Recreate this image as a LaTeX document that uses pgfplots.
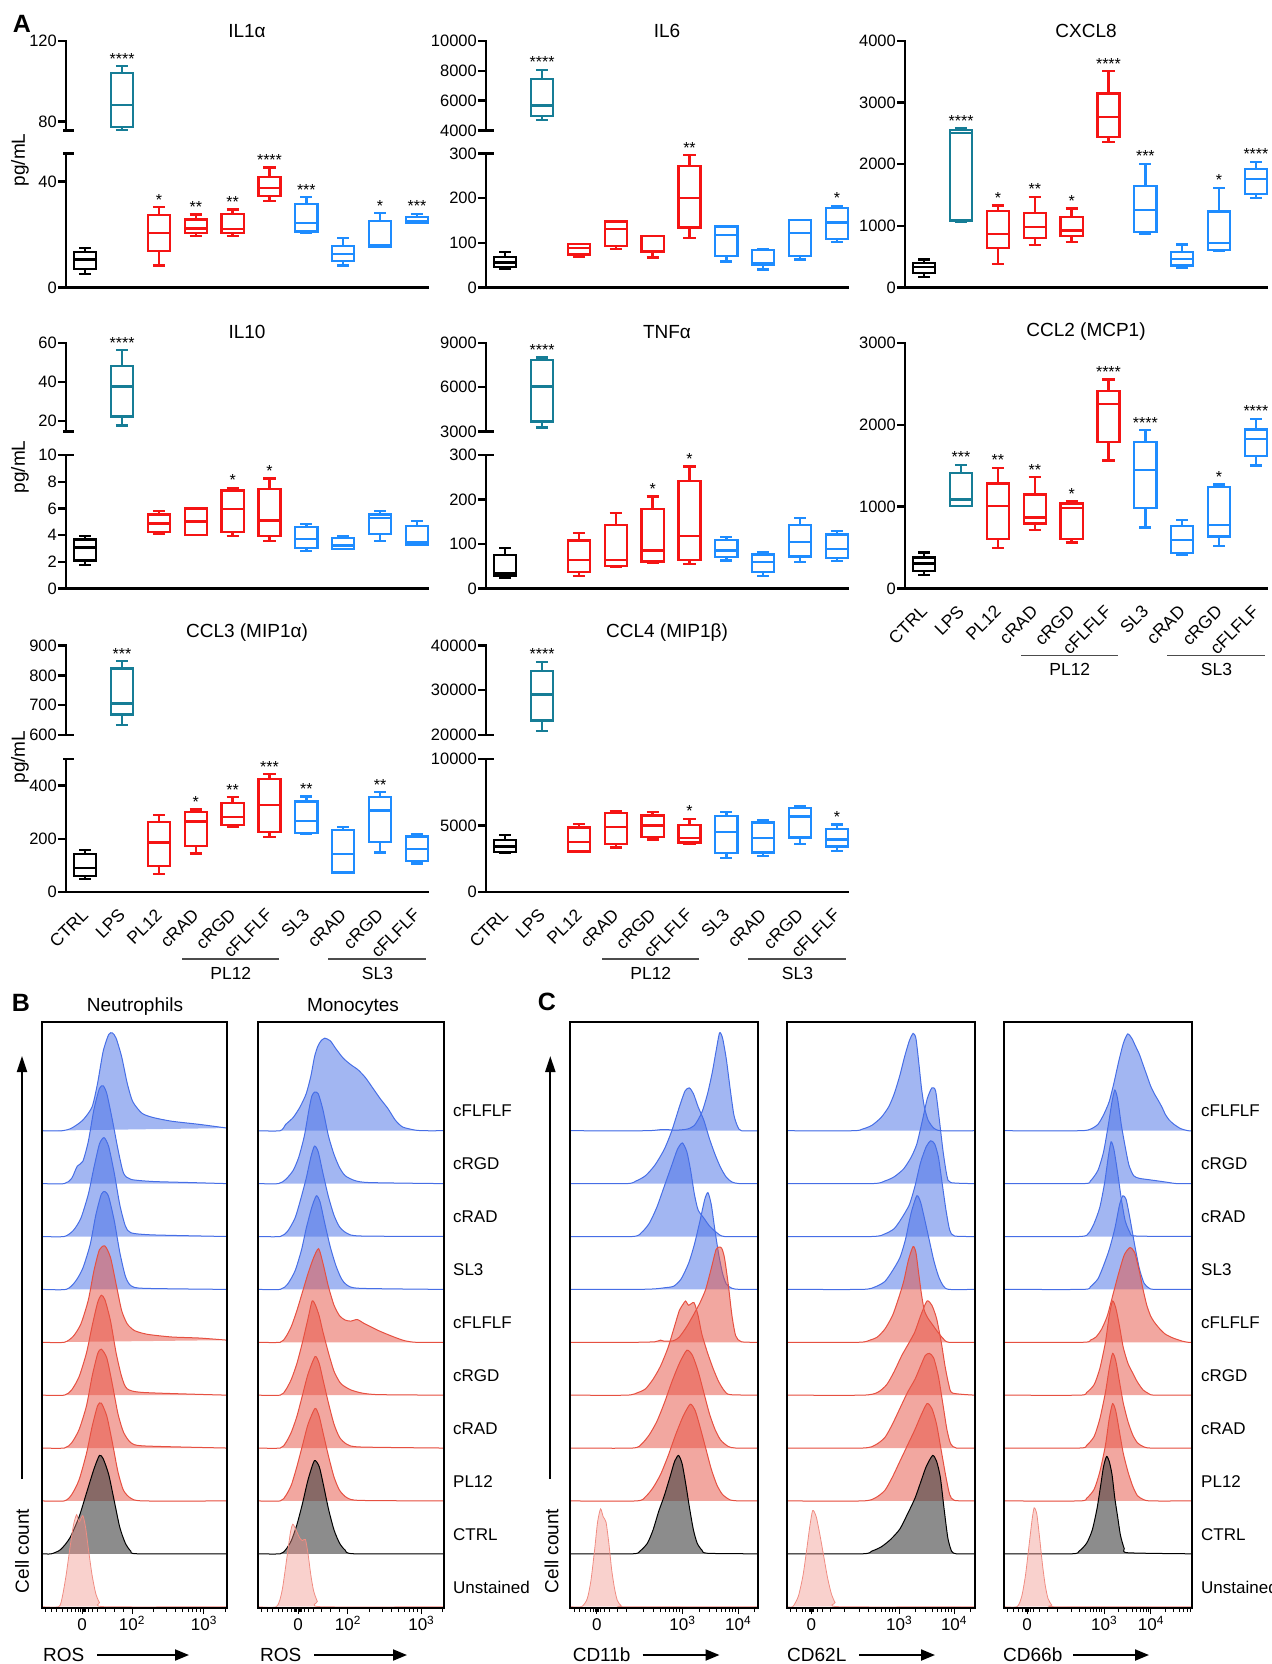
\documentclass[border=0pt]{standalone}
\usepackage{fontspec}
\setmainfont{Liberation Sans}
\usepackage{pgfplots}
\pgfplotsset{compat=1.18}
\usetikzlibrary{arrows.meta}

\definecolor{tl}{RGB}{22,125,150}
\definecolor{rd}{RGB}{245,20,20}
\definecolor{bl}{RGB}{30,140,255}
\definecolor{hbl}{RGB}{70,110,230}
\definecolor{hrd}{RGB}{230,80,65}
\definecolor{hun}{RGB}{240,140,130}

\newcommand\ttl{\fontsize{19}{22}\selectfont}
\newcommand\tkf{\fontsize{16.5}{19}\selectfont}
\newcommand\ctf{\fontsize{17.5}{20}\selectfont}
\newcommand\sgf{\fontsize{16}{18}\selectfont}
\newcommand\lbf{\fontsize{19}{22}\selectfont}
\newcommand\rlf{\fontsize{17}{20}\selectfont}
\newcommand\pnf{\fontsize{25}{28}\selectfont\bfseries}

\pgfplotsset{
  cyt/.style={scale only axis, width=362pt, xmin=-0.52, xmax=9.3, clip=false,
    axis y line*=left,
    axis line style={line width=2.6pt, line cap=rect},
    tick align=outside, major tick length=8pt,
    ytick style={line width=2.4pt, black},
    yticklabel style={font=\tkf, inner sep=1pt},
    /pgf/number format/assume math mode=true,
    /pgf/number format/1000 sep={},
    scaled y ticks=false},
  lower/.style={cyt, axis x line*=bottom, xtick=\empty, ymin=0},
  upper/.style={cyt, axis x line=none, xtick=\empty},
  cats/.style={xtick={0,...,9},
    xticklabels={CTRL,LPS,PL12,cRAD,cRGD,cFLFLF,SL3,cRAD,cRGD,cFLFLF},
    xtick style={draw=none},
    xticklabel style={font=\ctf, rotate=45, anchor=east, inner sep=0pt},
    xticklabel shift=12pt},
  ridge/.style={scale only axis, height=585.7pt, xmin=0, xmax=100,
    ymin=-0.025, ymax=11.05, axis on top,
    axis line style={line width=2.2pt},
    ytick=\empty, xtick pos=left, tick align=outside,
    major tick length=6pt, minor tick length=3.5pt,
    tick style={line width=1pt, black},
    xticklabel style={font=\rlf, inner sep=2pt},
    typeset ticklabels with strut},
  hb/.style={draw=hbl, line width=1pt, fill=hbl, fill opacity=0.5, smooth, tension=0.4, mark=none},
  hr/.style={draw=hrd, line width=1pt, fill=hrd, fill opacity=0.5, smooth, tension=0.4, mark=none},
  hk/.style={draw=black, line width=1pt, fill=black!75, fill opacity=0.6, smooth, tension=0.4, mark=none},
  hu/.style={draw=hun, line width=0.8pt, fill=hun, fill opacity=0.4, smooth, tension=0.4, mark=none},
}

% one box-and-whisker: colour, position, min, Q1, median, Q3, max
\newcommand\bx[7]{%
  \pgfmathsetmacro\xa{#2-0.3}%
  \pgfmathsetmacro\xb{#2+0.3}%
  \pgfmathsetmacro\xc{#2-0.165}%
  \pgfmathsetmacro\xd{#2+0.165}%
  \edef\bxcmd{\noexpand\addplot[draw=#1, line width=2.3pt, mark=none, line join=miter, unbounded coords=jump] coordinates {%
    (\xa,#4) (\xb,#4) (\xb,#6) (\xa,#6) (\xa,#4) (\xb,#4) (\xb,nan)
    (\xa,#5) (\xb,#5) (\xb,nan)
    (#2,#6) (#2,#7) (#2,nan)
    (\xc,#7) (\xd,#7) (\xd,nan)
    (#2,#4) (#2,#3) (#2,nan)
    (\xc,#3) (\xd,#3)};}%
  \bxcmd}
% significance stars above a whisker
\newcommand\sg[3]{\node[font=\sgf, anchor=base, inner sep=0pt, yshift=2pt] at (axis cs:#1,#2) {#3};}
% axis-break marks
\newcommand\brkB{\draw[line width=2.6pt] (rel axis cs:0,0) ++(-3pt,0pt) -- ++(11pt,0pt);}
\newcommand\brkT{\draw[line width=2.6pt] (rel axis cs:0,1) ++(-3pt,0pt) -- ++(11pt,0pt);}
% group brackets under the category labels
\newcommand\groups{%
  \draw[line width=1.3pt, black!70] (axis cs:2.63,0) ++(0pt,-67pt) -- ++(97pt,0pt);
  \draw[line width=1.3pt, black!70] (axis cs:6.6,0) ++(0pt,-67pt) -- ++(98pt,0pt);
  \node[font=\ctf, yshift=-81pt] at (axis cs:3.95,0) {PL12};
  \node[font=\ctf, yshift=-81pt] at (axis cs:7.93,0) {SL3};}
% one histogram row: style, row offset, points
\newcommand\rc[3]{\addplot[#1, y filter/.expression={y+#2}] coordinates {#3};}

\begin{document}
\begin{tikzpicture}
\path[use as bounding box] (0,0) rectangle (1271pt,-1664pt);

\node[font=\pnf] at (22pt,-24pt) {A};

% ---------------- IL1alpha ----------------
\node[font=\ttl] at (247pt,-31pt) {IL1α};
\node[font=\lbf, rotate=90] at (20pt,-160pt) {pg/mL};
\begin{axis}[upper, at={(66pt,-130.5pt)}, anchor=south west, height=89.5pt, ymin=75.5, ymax=120, ytick={80,120}]
\bx{tl}{1}{75.7}{77.3}{88.3}{104.2}{107.5}
\sg{1}{107.5}{****}
\brkB
\end{axis}
\begin{axis}[lower, at={(66pt,-287.5pt)}, anchor=south west, height=134pt, ymax=50.5, ytick={0,40}]
\bx{black}{0}{5}{7}{10.5}{13.25}{15}
\bx{rd}{2}{8.25}{13.75}{20.5}{27.4}{30.25}
\bx{rd}{3}{19.5}{20.5}{22.25}{25.6}{27.5}
\bx{rd}{4}{19.5}{20.6}{22}{27.75}{29.4}
\bx{rd}{5}{32.5}{34.6}{37.5}{41.75}{45.25}
\bx{bl}{6}{20.5}{21.1}{24.25}{31.5}{34.1}
\bx{bl}{7}{8.25}{10}{12.75}{15.6}{18.75}
\bx{bl}{8}{15.3}{15.5}{16}{25}{28}
\bx{bl}{9}{24.25}{24.3}{25.1}{26.5}{27.75}
\sg{2}{30.25}{*}\sg{3}{27.5}{**}\sg{4}{29.4}{**}\sg{5}{45.25}{****}
\sg{6}{34.1}{***}\sg{8}{28}{*}\sg{9}{27.75}{***}
\brkT
\end{axis}

% ---------------- IL6 ----------------
\node[font=\ttl] at (667pt,-31pt) {IL6};
\begin{axis}[upper, at={(486pt,-130.5pt)}, anchor=south west, height=89.5pt, ymin=4000, ymax=10000, ytick={4000,6000,8000,10000}]
\bx{tl}{1}{4714}{4960}{5677}{7469}{8074}
\sg{1}{8074}{****}
\brkB
\end{axis}
\begin{axis}[lower, at={(486pt,-287.5pt)}, anchor=south west, height=134pt, ymax=300, ytick={0,100,200,300}]
\bx{black}{0}{41}{46.5}{56}{68}{79}
\bx{rd}{2}{69}{74}{89}{97}{97.5}
\bx{rd}{3}{86}{93}{130.5}{148}{148}
\bx{rd}{4}{67}{80}{81}{115}{116}
\bx{rd}{5}{111}{134}{200}{272}{296}
\bx{bl}{6}{58.5}{70.5}{118}{136.5}{138}
\bx{bl}{7}{40.5}{50}{54}{84}{85}
\bx{bl}{8}{63}{71}{122}{150.75}{150.75}
\bx{bl}{9}{102}{108}{145.5}{178.5}{183}
\sg{5}{296}{**}\sg{9}{183}{*}
\brkT
\end{axis}

% ---------------- CXCL8 ----------------
\node[font=\ttl] at (1086pt,-31pt) {CXCL8};
\begin{axis}[lower, at={(905pt,-287.5pt)}, anchor=south west, height=246.5pt, ymax=4000, ytick={0,1000,2000,3000,4000}]
\bx{black}{0}{168}{238}{330}{400}{454}
\bx{tl}{1}{1065}{1086}{2508}{2551}{2578}
\bx{rd}{2}{384}{643}{870}{1243}{1330}
\bx{rd}{3}{686}{805}{978}{1211}{1470}
\bx{rd}{4}{740}{832}{924}{1140}{1281}
\bx{rd}{5}{2357}{2438}{2767}{3146}{3513}
\bx{bl}{6}{870}{903}{1254}{1643}{2005}
\bx{bl}{7}{319}{357}{465}{578}{697}
\bx{bl}{8}{589}{605}{724}{1232}{1616}
\bx{bl}{9}{1449}{1519}{1762}{1924}{2038}
\sg{1}{2578}{****}\sg{2}{1330}{*}\sg{3}{1470}{**}\sg{4}{1281}{*}\sg{5}{3513}{****}
\sg{6}{2005}{***}\sg{8}{1616}{*}\sg{9}{2038}{****}
\end{axis}

% ---------------- IL10 ----------------
\node[font=\ttl] at (247pt,-332pt) {IL10};
\node[font=\lbf, rotate=90] at (20pt,-467pt) {pg/mL};
\begin{axis}[upper, at={(66pt,-431.5pt)}, anchor=south west, height=88.5pt, ymin=14.7, ymax=60, ytick={20,40,60}]
\bx{tl}{1}{17.8}{22.4}{37.7}{48.2}{56.3}
\sg{1}{56.3}{****}
\brkB
\end{axis}
\begin{axis}[lower, at={(66pt,-588.5pt)}, anchor=south west, height=133.5pt, ymax=10, ytick={0,2,4,6,8,10}]
\bx{black}{0}{1.75}{2.1}{3.08}{3.68}{3.95}
\bx{rd}{2}{4.08}{4.25}{4.88}{5.55}{5.78}
\bx{rd}{3}{4.0}{4.0}{5.03}{6.0}{6.0}
\bx{rd}{4}{3.93}{4.25}{5.93}{7.35}{7.53}
\bx{rd}{5}{3.58}{3.93}{5.1}{7.43}{8.23}
\bx{bl}{6}{2.8}{3.05}{3.7}{4.6}{4.85}
\bx{bl}{7}{2.98}{2.98}{3.23}{3.78}{3.95}
\bx{bl}{8}{3.58}{4.1}{5.3}{5.55}{5.78}
\bx{bl}{9}{3.3}{3.3}{3.48}{4.68}{5.05}
\sg{4}{7.53}{*}\sg{5}{8.23}{*}
\brkT
\end{axis}

% ---------------- TNFalpha ----------------
\node[font=\ttl] at (667pt,-332pt) {TNFα};
\begin{axis}[upper, at={(486pt,-431.5pt)}, anchor=south west, height=88.5pt, ymin=3000, ymax=9000, ytick={3000,6000,9000}]
\bx{tl}{1}{3272}{3680}{6057}{7868}{8026}
\sg{1}{8026}{****}
\brkB
\end{axis}
\begin{axis}[lower, at={(486pt,-588.5pt)}, anchor=south west, height=133.5pt, ymax=300, ytick={0,100,200,300}]
\bx{black}{0}{24}{29}{35}{75}{91}
\bx{rd}{2}{28}{37.5}{64.5}{108}{124}
\bx{rd}{3}{48}{50}{64.5}{142.5}{169}
\bx{rd}{4}{57}{61}{85.5}{178}{207}
\bx{rd}{5}{55}{64.5}{118.5}{241}{274.5}
\bx{bl}{6}{63}{70.5}{85.5}{109.5}{116}
\bx{bl}{7}{28.5}{37}{59}{76.5}{82.5}
\bx{bl}{8}{60}{72}{105}{142.5}{158}
\bx{bl}{9}{62}{69}{88}{121.5}{129}
\sg{4}{207}{*}\sg{5}{274.5}{*}
\brkT
\end{axis}

% ---------------- CCL2 ----------------
\node[font=\ttl] at (1086pt,-332pt) {CCL2 (MCP1)};
\begin{axis}[lower, cats, at={(905pt,-588.5pt)}, anchor=south west, height=245.5pt, ymax=3000, ytick={0,1000,2000,3000}]
\bx{black}{0}{163}{215}{305}{378}{439}
\bx{tl}{1}{1008}{1008}{1089}{1415}{1512}
\bx{rd}{2}{496}{602}{1012}{1285}{1476}
\bx{rd}{3}{711}{793}{866}{1150}{1362}
\bx{rd}{4}{561}{602}{988}{1037}{1069}
\bx{rd}{5}{1565}{1789}{2252}{2411}{2553}
\bx{bl}{6}{744}{984}{1447}{1793}{1935}
\bx{bl}{7}{406}{431}{593}{764}{833}
\bx{bl}{8}{520}{634}{776}{1240}{1272}
\bx{bl}{9}{1504}{1618}{1829}{1943}{2073}
\sg{1}{1512}{***}\sg{2}{1476}{**}\sg{3}{1362}{**}\sg{4}{1069}{*}\sg{5}{2553}{****}
\sg{6}{1935}{****}\sg{8}{1272}{*}\sg{9}{2073}{****}
\groups
\end{axis}

% ---------------- CCL3 ----------------
\node[font=\ttl] at (247pt,-633pt) {CCL3 (MIP1α)};
\node[font=\lbf, rotate=90] at (20pt,-757pt) {pg/mL};
\begin{axis}[upper, at={(66pt,-735pt)}, anchor=south west, height=89.5pt, ymin=600, ymax=900, ytick={600,700,800,900}]
\bx{tl}{1}{633}{669}{706}{823}{847.6}
\sg{1}{847.6}{***}
\brkB
\end{axis}
\begin{axis}[lower, cats, at={(66pt,-892pt)}, anchor=south west, height=133pt, ymax=500, ytick={0,200,400}]
\bx{black}{0}{50}{59}{90}{142}{159}
\bx{rd}{2}{68}{98}{186}{263}{290}
\bx{rd}{3}{145}{174}{265}{300}{310}
\bx{rd}{4}{245}{253}{282}{335}{356}
\bx{rd}{5}{207}{226}{327}{424}{443}
\bx{bl}{6}{217}{223}{267}{340}{359}
\bx{bl}{7}{73}{73}{142}{232}{245}
\bx{bl}{8}{148}{187}{306}{356}{375}
\bx{bl}{9}{107}{117}{163}{209}{219}
\sg{3}{310}{*}\sg{4}{356}{**}\sg{5}{443}{***}\sg{6}{359}{**}\sg{8}{375}{**}
\brkT
\groups
\end{axis}

% ---------------- CCL4 ----------------
\node[font=\ttl] at (667pt,-633pt) {CCL4 (MIP1β)};
\begin{axis}[upper, at={(486pt,-735pt)}, anchor=south west, height=89.5pt, ymin=20000, ymax=40000, ytick={20000,30000,40000}]
\bx{tl}{1}{20818}{23270}{29070}{34275}{36357}
\sg{1}{36357}{****}
\brkB
\end{axis}
\begin{axis}[lower, cats, at={(486pt,-892pt)}, anchor=south west, height=133pt, ymax=10000, ytick={0,5000,10000}]
\bx{black}{0}{2925}{3000}{3425}{3900}{4275}
\bx{rd}{2}{3050}{3050}{3750}{4850}{5100}
\bx{rd}{3}{3350}{3600}{4900}{5925}{6075}
\bx{rd}{4}{3950}{4150}{5000}{5750}{6000}
\bx{rd}{5}{3600}{3725}{4075}{5050}{5500}
\bx{bl}{6}{2575}{2925}{4525}{5725}{6000}
\bx{bl}{7}{2725}{2975}{4075}{5225}{5425}
\bx{bl}{8}{3600}{4100}{5675}{6300}{6475}
\bx{bl}{9}{3100}{3425}{3950}{4750}{5075}
\sg{5}{5500}{*}\sg{9}{5075}{*}
\brkT
\groups
\end{axis}

% ================= B: ROS =================
\node[font=\pnf] at (21pt,-1003pt) {B};
\node[font=\lbf] at (135pt,-1007pt) {Neutrophils};
\node[font=\lbf] at (353pt,-1007pt) {Monocytes};

\begin{axis}[ridge, width=185pt, at={(42.1pt,-1608pt)}, anchor=south west,
  xtick={21.6,48.6,87.5}, xticklabels={0,10\textsuperscript{2},10\textsuperscript{3}},
  minor xtick={2,5,8,11,13.5,16,18,19.5,20.5,21,22.2,22.7,23.5,25,27,30,34,39,44,60.3,67.2,72,75.8,78.9,81.5,83.7,85.7,99.2}]
\rc{hb}{9}{(0,0)(11,0)(16,0.05)(22,0.2)(27,0.45)(30,0.9)(33,1.5)(36,1.82)(38,1.85)(40,1.75)(43,1.4)(46,0.9)(49,0.55)(54,0.33)(60,0.25)(70,0.18)(85,0.12)(100,0.05)}
\rc{hb}{8}{(0,0)(12,0)(16,0.1)(19,0.33)(22,0.42)(25,0.8)(28,1.4)(31,1.8)(33,1.85)(35,1.7)(38,1.2)(41,0.65)(44,0.2)(48,0.08)(60,0.04)(80,0.02)(100,0)}
\rc{hb}{7}{(0,0)(12,0)(17,0.12)(21,0.35)(25,0.8)(28,1.3)(31,1.75)(33.5,1.87)(36,1.7)(39,1.2)(42,0.6)(45,0.2)(48,0.07)(60,0.03)(100,0)}
\rc{hb}{6}{(0,0)(13,0)(18,0.15)(22,0.4)(26,0.85)(29,1.4)(32,1.8)(34,1.85)(36,1.75)(39,1.3)(42,0.7)(45,0.25)(48,0.07)(55,0.02)(100,0)}
\rc{hr}{5}{(0,0)(12,0)(17,0.12)(21,0.35)(25,0.8)(28,1.35)(31,1.75)(34,1.82)(37,1.6)(40,1.1)(43,0.6)(46,0.35)(50,0.22)(57,0.15)(70,0.1)(85,0.08)(100,0.04)}
\rc{hr}{4}{(0,0)(12,0)(16,0.1)(20,0.35)(24,0.8)(27,1.3)(30,1.75)(32,1.89)(34,1.8)(37,1.4)(40,0.8)(43,0.35)(46,0.12)(55,0.05)(100,0)}
\rc{hr}{3}{(0,0)(12,0)(16,0.1)(20,0.35)(24,0.8)(27,1.35)(30,1.78)(32,1.87)(35,1.7)(38,1.2)(41,0.65)(44,0.3)(48,0.1)(55,0.04)(100,0)}
\rc{hr}{2}{(0,0)(12,0)(16,0.12)(20,0.4)(24,0.9)(27,1.4)(30,1.8)(32,1.85)(35,1.6)(38,1.1)(41,0.55)(44,0.2)(48,0.05)(55,0)(100,0)}
\rc{hk}{1}{(0,0)(5,0)(10,0.08)(15,0.3)(20,0.7)(24,1.15)(28,1.6)(31,1.86)(33,1.8)(36,1.5)(39,1.0)(42,0.5)(45,0.2)(48,0.05)(52,0)(100,0)}
\rc{hu}{0}{(0,0)(9,0)(11,0.2)(13,0.6)(15,1.1)(17,1.55)(18.7,1.74)(20,1.6)(22,1.72)(23.5,1.5)(25,1.1)(27,0.6)(29,0.25)(31,0.08)(34,0)(100,0)}
\end{axis}

\begin{axis}[ridge, width=185.7pt, at={(257.9pt,-1608pt)}, anchor=south west,
  xtick={21.6,48.5,88}, xticklabels={0,10\textsuperscript{2},10\textsuperscript{3}},
  minor xtick={2,5,8,11,13.5,16,18,19.5,20.5,21,22.2,22.7,23.5,25,27,30,34,39,44,60.3,67.2,72,75.8,78.9,81.5,83.7,85.7,99.2}]
\rc{hb}{9}{(0,0)(12,0)(15,0.12)(19,0.25)(22.7,0.45)(26,0.7)(28.5,1.03)(30.5,1.4)(32.3,1.6)(34,1.7)(36,1.75)(39,1.7)(42,1.55)(46,1.37)(50,1.25)(54,1.15)(58,1.0)(62,0.8)(66,0.6)(70,0.42)(74,0.2)(78,0.07)(85,0.01)(90,0)(100,0)}
\rc{hb}{8}{(0,0)(11,0)(15,0.08)(19,0.25)(22,0.5)(25,0.9)(27.5,1.4)(29,1.65)(30.5,1.73)(32.5,1.7)(35,1.4)(38,0.9)(41,0.55)(44,0.3)(47,0.15)(52,0.06)(60,0.02)(100,0)}
\rc{hb}{7}{(0,0)(12,0)(16,0.1)(20,0.35)(23,0.7)(26,1.1)(28.5,1.5)(30.5,1.71)(32.5,1.6)(35,1.2)(38,0.75)(41,0.4)(44,0.18)(48,0.06)(55,0.01)(100,0)}
\rc{hb}{6}{(0,0)(12,0)(16,0.1)(20,0.35)(23.5,0.75)(26,1.15)(29,1.55)(31.5,1.77)(33.5,1.65)(36,1.25)(39,0.8)(42,0.45)(45,0.2)(48,0.08)(55,0.02)(100,0)}
\rc{hr}{5}{(0,0)(12,0)(15,0.1)(18,0.3)(21,0.6)(24,0.95)(27,1.3)(30,1.6)(32.7,1.77)(35,1.5)(38,1.05)(41,0.7)(44,0.5)(47,0.42)(50,0.4)(53.5,0.43)(57,0.36)(61,0.29)(65,0.22)(69,0.16)(74,0.09)(79,0.03)(85,0)(100,0)}
\rc{hr}{4}{(0,0)(12,0)(15,0.1)(18,0.3)(21,0.6)(24,1.0)(27,1.45)(29.2,1.78)(31,1.7)(33,1.5)(35,1.2)(38,0.8)(41,0.45)(44,0.25)(46,0.18)(50,0.1)(56,0.04)(65,0.01)(100,0)}
\rc{hr}{3}{(0,0)(12,0)(15,0.1)(18,0.3)(21,0.6)(24,1.0)(27,1.4)(30.8,1.73)(33,1.6)(35,1.3)(38,0.85)(41,0.45)(44,0.2)(48,0.07)(55,0.02)(100,0)}
\rc{hr}{2}{(0,0)(12,0)(15,0.1)(18,0.3)(21,0.65)(24,1.05)(27,1.45)(30.8,1.75)(33,1.6)(35,1.3)(38,0.85)(41,0.45)(44,0.2)(48,0.06)(55,0.01)(100,0)}
\rc{hk}{1}{(0,0)(12,0)(15,0.08)(18,0.25)(21,0.55)(24,0.95)(27,1.4)(30.4,1.76)(33,1.65)(35,1.35)(38,0.85)(41,0.45)(44,0.2)(47,0.07)(52,0)(100,0)}
\rc{hu}{0}{(0,0)(10,0)(13,0.3)(15.5,0.9)(17.5,1.4)(18.8,1.56)(20.5,1.45)(22.5,1.3)(24,1.25)(25.6,1.27)(27,1.0)(28.5,0.6)(30,0.3)(32,0.1)(34,0)(100,0)}
\end{axis}

\foreach \t [count=\i from 0] in {Unstained,CTRL,PL12,cRAD,cRGD,cFLFLF,SL3,cRAD,cRGD,cFLFLF}{
  \node[font=\rlf, anchor=west, inner sep=0pt] at (453pt,{(-1587.2+52.91*\i)*1pt}) {\t};
  \node[font=\rlf, anchor=west, inner sep=0pt] at (1201pt,{(-1587.2+52.91*\i)*1pt}) {\t};
}

\draw[line width=2pt, -{Triangle[length=16pt, width=10pt]}] (22pt,-1479pt) -- (22pt,-1056pt);
\node[font=\lbf, rotate=90] at (22pt,-1551pt) {Cell count};
\node[font=\lbf, anchor=west, inner sep=0pt] at (43pt,-1655pt) {ROS};
\draw[line width=2pt, -{Triangle[length=14pt, width=11pt]}] (97pt,-1655pt) -- (189pt,-1655pt);
\node[font=\lbf, anchor=west, inner sep=0pt] at (260pt,-1655pt) {ROS};
\draw[line width=2pt, -{Triangle[length=14pt, width=11pt]}] (314pt,-1655pt) -- (407pt,-1655pt);

% ================= C: surface markers =================
\node[font=\pnf] at (547pt,-1002pt) {C};

\begin{axis}[ridge, width=188pt, at={(570.3pt,-1608pt)}, anchor=south west,
  xtick={14.1,59.6,89.3}, xticklabels={0,10\textsuperscript{3},10\textsuperscript{4}},
  minor xtick={2,5,8,10.5,12.3,13.3,13.8,14.5,15,16,18,21,25,30,38.9,44.1,47.8,50.7,53,55,56.7,58.2,68.5,73.8,77.5,80.4,82.7,84.7,86.4,87.9,98.2}]
\rc{hb}{9}{(0,0)(40,0)(48,0.02)(52,0.02)(56,0.01)(62,0.03)(66,0.1)(70,0.35)(73,0.7)(75.5,1.1)(77.5,1.5)(79.4,1.85)(81,1.75)(83,1.35)(85,0.8)(87,0.3)(89,0.08)(91,0)(100,0)}
\rc{hb}{8}{(0,0)(30,0)(35,0.05)(40,0.15)(45,0.35)(50,0.65)(54,1.0)(58,1.45)(61,1.75)(63.3,1.81)(65.5,1.7)(68,1.45)(71,1.2)(74,0.85)(77,0.55)(80,0.3)(83,0.12)(86,0.03)(90,0)(100,0)}
\rc{hb}{7}{(0,0)(33,0)(38,0.08)(42,0.25)(46,0.55)(50,0.95)(54,1.35)(57,1.65)(59.6,1.77)(62,1.6)(64,1.25)(66,0.8)(68,0.5)(71,0.35)(74,0.2)(78,0.07)(82,0)(100,0)}
\rc{hb}{6}{(0,0)(35,0)(45,0.01)(50,0.03)(55,0.06)(59,0.2)(63,0.5)(66,0.85)(69,1.3)(71.5,1.7)(73.2,1.83)(75,1.6)(77,1.1)(79,0.65)(81,0.3)(83,0.1)(86,0.02)(90,0)(100,0)}
\rc{hr}{5}{(0,0)(35,0)(45,0.01)(48,0.04)(50,0.02)(55,0.03)(58,0.1)(62,0.3)(66,0.55)(69,0.75)(72,1.0)(75,1.4)(77.5,1.75)(79,1.8)(80.5,1.78)(82,1.6)(84,1.1)(86,0.5)(88,0.12)(91,0.01)(100,0)}
\rc{hr}{4}{(0,0)(30,0)(36,0.05)(40,0.12)(44,0.3)(48,0.55)(52,0.9)(55,1.25)(58,1.6)(60,1.72)(61.3,1.78)(63,1.7)(65.8,1.75)(68,1.5)(70,1.15)(73,0.8)(76,0.5)(79,0.25)(82,0.08)(85,0.01)(100,0)}
\rc{hr}{3}{(0,0)(33,0)(38,0.08)(42,0.25)(46,0.5)(50,0.85)(54,1.25)(58,1.6)(62,1.85)(65,1.75)(68,1.45)(71,1.05)(74,0.65)(77,0.35)(80,0.15)(84,0.03)(88,0)(100,0)}
\rc{hr}{2}{(0,0)(35,0)(40,0.08)(44,0.25)(48,0.5)(52,0.85)(56,1.25)(60,1.6)(63.8,1.83)(66.5,1.7)(69,1.4)(72,1.0)(75,0.6)(78,0.3)(81,0.12)(85,0.02)(90,0)(100,0)}
\rc{hk}{1}{(0,0)(33,0)(37,0.05)(41,0.2)(44,0.45)(47,0.8)(50,1.1)(53,1.45)(55.5,1.75)(57.6,1.86)(59.5,1.7)(61.5,1.3)(63.5,0.85)(65.5,0.45)(67.5,0.2)(70,0.07)(73,0.01)(100,0)}
\rc{hu}{0}{(0,0)(6,0)(9,0.15)(11,0.5)(13,1.1)(14.5,1.6)(16.1,1.85)(17.5,1.7)(19,1.6)(20.5,1.2)(22,0.7)(23.5,0.35)(25,0.12)(27,0.02)(30,0)(100,0)}
\end{axis}

\begin{axis}[ridge, width=188pt, at={(787.1pt,-1608pt)}, anchor=south west,
  xtick={12.9,59.6,88.8}, xticklabels={0,10\textsuperscript{3},10\textsuperscript{4}},
  minor xtick={2,5,8,10,11.7,12.5,13.3,14,16,19,23,30.4,38.4,43.5,47.2,50,52.3,54.3,55.9,57.5,68.4,73.5,77.2,80,82.3,84.3,85.9,87.3,97.6}]
\rc{hb}{9}{(0,0)(35,0)(40,0.03)(45,0.1)(50,0.25)(54,0.45)(57,0.7)(60,1.05)(62.5,1.4)(65,1.7)(67,1.84)(68.5,1.75)(70,1.3)(71.5,0.8)(73,0.45)(75,0.2)(78,0.05)(82,0)(100,0)}
\rc{hb}{8}{(0,0)(45,0)(52,0.05)(57,0.13)(62,0.28)(66,0.5)(69,0.75)(72,1.2)(74.5,1.6)(77,1.81)(79,1.75)(81,1.2)(83,0.6)(85,0.15)(87,0.02)(100,0)}
\rc{hb}{7}{(0,0)(45,0)(52,0.05)(57,0.15)(61,0.35)(65,0.6)(68,0.95)(71,1.4)(74,1.7)(76.4,1.81)(78.5,1.75)(80.5,1.5)(82.5,1.0)(84.5,0.5)(86.5,0.12)(89,0.01)(100,0)}
\rc{hb}{6}{(0,0)(40,0)(47,0.05)(52,0.15)(56,0.35)(60,0.6)(63,0.95)(66,1.45)(69,1.77)(71,1.65)(73,1.35)(75.5,0.95)(78,0.55)(80.5,0.25)(83,0.07)(86,0)(100,0)}
\rc{hr}{5}{(0,0)(38,0)(44,0.04)(48,0.1)(52,0.25)(56,0.5)(59,0.8)(62,1.15)(64.5,1.55)(67,1.81)(68.5,1.7)(70,1.3)(71.5,0.9)(73,0.6)(75,0.45)(77,0.35)(80,0.2)(83,0.07)(86,0)(100,0)}
\rc{hr}{4}{(0,0)(40,0)(48,0.05)(53,0.2)(57,0.45)(61,0.75)(65,1.0)(68,1.2)(71,1.5)(74.4,1.78)(77,1.7)(79.5,1.45)(82,1.0)(84,0.55)(86,0.2)(88,0.04)(100,0)}
\rc{hr}{3}{(0,0)(40,0)(47,0.06)(52,0.2)(56,0.45)(60,0.75)(64,1.05)(68,1.3)(71,1.55)(73.5,1.75)(75.7,1.79)(78,1.7)(80.5,1.35)(83,0.8)(85,0.35)(87,0.08)(90,0)(100,0)}
\rc{hr}{2}{(0,0)(40,0)(47,0.06)(52,0.2)(56,0.45)(60,0.75)(64,1.05)(68,1.35)(71,1.6)(74.4,1.84)(77,1.75)(79.5,1.45)(82,0.95)(84.5,0.45)(86.5,0.12)(89,0.01)(100,0)}
\rc{hk}{1}{(0,0)(40,0)(45,0.05)(50,0.13)(55,0.27)(60,0.47)(64,0.75)(68,1.05)(71,1.35)(74,1.65)(77.4,1.86)(79.5,1.75)(81.5,1.45)(83.5,0.85)(85.5,0.3)(87.5,0.05)(90,0)(100,0)}
\rc{hu}{0}{(0,0)(3,0)(6,0.2)(8.5,0.6)(10.5,1.1)(12,1.5)(13.6,1.82)(15.5,1.7)(17.5,1.35)(19.5,0.95)(21.5,0.55)(23.5,0.25)(25.5,0.08)(28,0)(100,0)}
\end{axis}

\begin{axis}[ridge, width=188pt, at={(1003.9pt,-1608pt)}, anchor=south west,
  xtick={12.4,53.3,78.2}, xticklabels={0,10\textsuperscript{3},10\textsuperscript{4}},
  minor xtick={2,5,8,10,11.5,12,13,14,16,19,23,28.4,35.8,40.3,43.3,45.8,47.7,49.4,50.8,52,60.8,65.1,68.2,70.6,72.6,74.2,75.7,76.9,85.7,90,93.2,95.6,97.5,99.2}]
\rc{hb}{9}{(0,0)(40,0)(46,0.03)(50,0.12)(53,0.3)(56,0.55)(58.5,0.9)(61,1.3)(63.5,1.65)(65.8,1.83)(68,1.75)(70,1.6)(72,1.45)(74,1.25)(76,1.05)(78,0.85)(80,0.7)(82,0.58)(84,0.45)(86,0.3)(88,0.2)(90.5,0.12)(94,0.04)(98,0)(100,0)}
\rc{hb}{8}{(0,0)(42,0)(46,0.05)(50,0.25)(53,0.6)(55.5,1.1)(57.5,1.55)(59,1.77)(60.5,1.6)(62.5,1.1)(64.5,0.7)(66.5,0.35)(69,0.15)(72,0.1)(78,0.07)(86,0.03)(92,0)(100,0)}
\rc{hb}{7}{(0,0)(40,0)(45,0.06)(48,0.25)(51,0.55)(53.5,1.0)(55.5,1.5)(57,1.79)(58.5,1.65)(60.5,1.2)(62.5,0.7)(64.5,0.3)(67,0.08)(70,0.01)(100,0)}
\rc{hb}{6}{(0,0)(42,0)(46,0.05)(50,0.2)(53,0.45)(56,0.75)(59,1.15)(61.5,1.6)(63.3,1.77)(65,1.7)(67,1.35)(69.5,0.85)(72,0.4)(74.5,0.12)(77,0.03)(80,0)(100,0)}
\rc{hr}{5}{(0,0)(42,0)(46,0.04)(49,0.1)(52,0.25)(55,0.5)(58,0.9)(61,1.3)(64,1.65)(67,1.79)(69.5,1.7)(72,1.35)(74,1.0)(76,0.7)(78,0.5)(80,0.38)(83,0.25)(86,0.15)(90,0.08)(95,0.02)(98,0)(100,0)}
\rc{hr}{4}{(0,0)(40,0)(44,0.05)(48,0.2)(51,0.5)(54,1.0)(56,1.5)(57.8,1.78)(59.5,1.65)(61.5,1.3)(63.5,0.9)(66,0.6)(68.5,0.42)(71,0.25)(74,0.1)(77,0.03)(80,0)(100,0)}
\rc{hr}{3}{(0,0)(40,0)(44,0.05)(48,0.22)(51,0.55)(54,1.05)(56,1.5)(57.8,1.79)(59.5,1.65)(61.5,1.25)(63.5,0.85)(66,0.5)(68.5,0.25)(71,0.1)(74,0.03)(78,0)(100,0)}
\rc{hr}{2}{(0,0)(40,0)(44,0.05)(48,0.22)(51,0.55)(54,1.05)(56,1.55)(57.8,1.84)(59.5,1.7)(61.5,1.3)(63.5,0.9)(66,0.55)(68.5,0.28)(71,0.1)(74,0.03)(78,0)(100,0)}
\rc{hk}{1}{(0,0)(36,0)(40,0.05)(44,0.2)(47,0.45)(49.5,0.85)(51.5,1.3)(53,1.65)(54.6,1.84)(56,1.75)(57.5,1.5)(59,1.05)(60.5,0.7)(62,0.35)(64,0.1)(66,0.02)(100,0)}
\rc{hu}{0}{(0,0)(7,0)(9.5,0.2)(11.5,0.6)(13.5,1.2)(15,1.65)(16.1,1.87)(17.5,1.75)(19,1.3)(20.5,0.8)(22,0.4)(23.5,0.15)(25.5,0.03)(28,0)(100,0)}
\end{axis}

\draw[line width=2pt, -{Triangle[length=16pt, width=10pt]}] (550.3pt,-1479pt) -- (550.3pt,-1056pt);
\node[font=\lbf, rotate=90] at (551.7pt,-1551pt) {Cell count};
\node[font=\lbf, anchor=west, inner sep=0pt] at (572.6pt,-1655pt) {CD11b};
\draw[line width=2pt, -{Triangle[length=14pt, width=11pt]}] (642.6pt,-1655pt) -- (719.5pt,-1655pt);
\node[font=\lbf, anchor=west, inner sep=0pt] at (787pt,-1655pt) {CD62L};
\draw[line width=2pt, -{Triangle[length=14pt, width=11pt]}] (859pt,-1655pt) -- (935pt,-1655pt);
\node[font=\lbf, anchor=west, inner sep=0pt] at (1003pt,-1655pt) {CD66b};
\draw[line width=2pt, -{Triangle[length=14pt, width=11pt]}] (1073pt,-1655pt) -- (1149pt,-1655pt);

\end{tikzpicture}
\end{document}
